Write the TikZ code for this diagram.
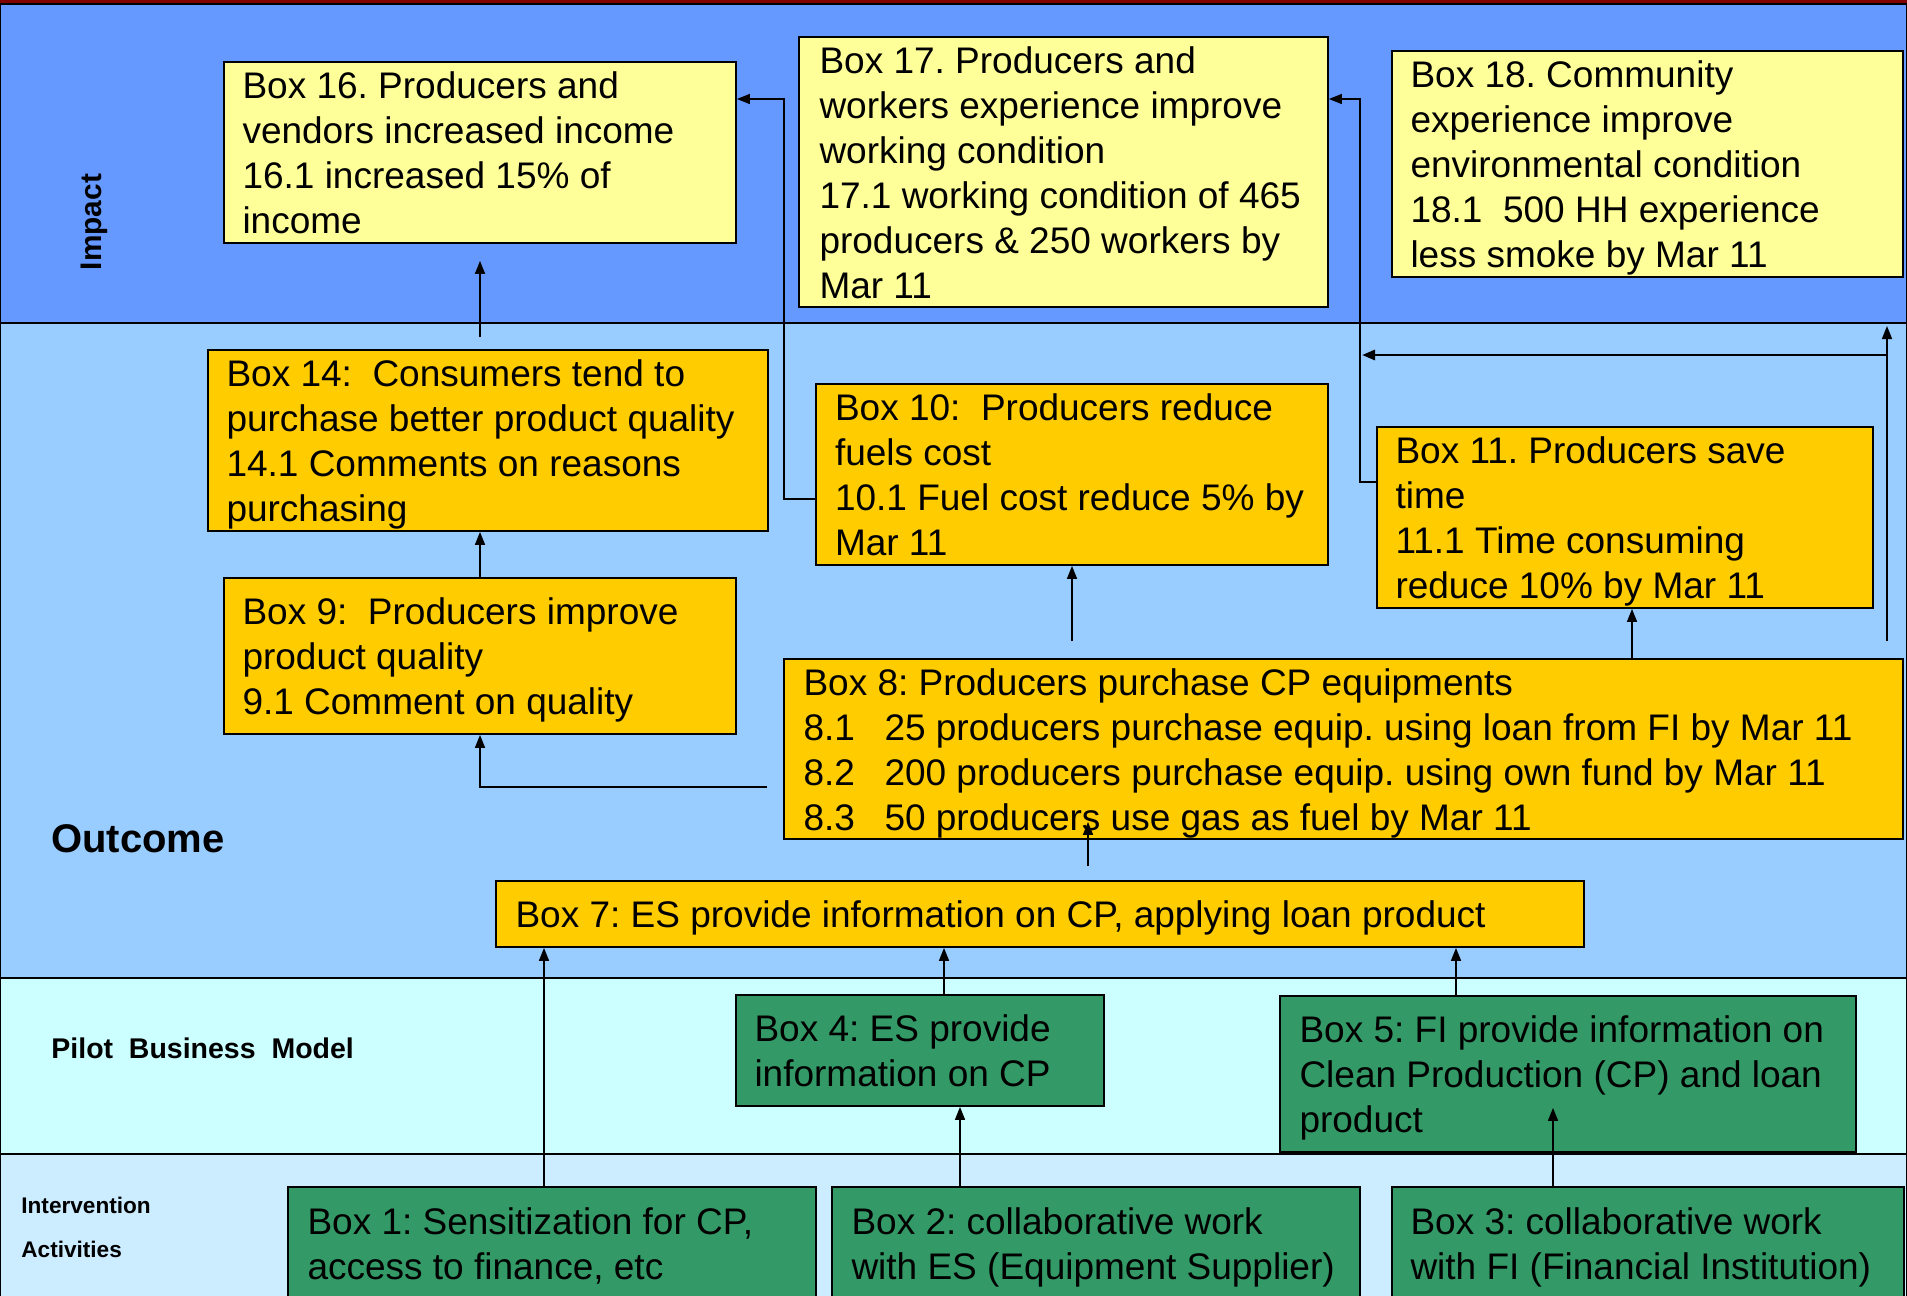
\documentclass[tikz,border=0pt]{standalone}
\usepackage{fontspec}
\setmainfont{Liberation Sans}
\usetikzlibrary{arrows.meta,calc}
\definecolor{impactblue}{HTML}{6699FF}
\definecolor{outcomeblue}{HTML}{99CCFF}
\definecolor{pilotcyan}{HTML}{CCFFFF}
\definecolor{intervblue}{HTML}{CCECFF}
\definecolor{topred}{HTML}{800000}
\definecolor{paleyellow}{HTML}{FFFF99}
\definecolor{goldbox}{HTML}{FFCC00}
\definecolor{seagreen}{HTML}{339966}
\frenchspacing
\begin{document}
\frenchspacing
\begin{tikzpicture}[x=0.5pt,y=-0.5pt,
  band/.style={draw=black, line width=1pt},
  bx/.style={draw=black, line width=0.9pt, rectangle, inner sep=0pt},
  imp/.style={bx, fill=paleyellow},
  outc/.style={bx, fill=goldbox},
  act/.style={bx, fill=seagreen},
  txt/.style={anchor=west, align=left, inner sep=0pt, text=black, yshift=-2pt,
    font=\fontsize{18.5pt}{22.5pt}\selectfont, execute at end node={\vphantom{g}}},
  arr/.style={draw=black, line width=0.8pt, -{Triangle[length=6.5pt,width=5pt]}},
  lbl/.style={anchor=base west, inner sep=0pt, text=black}
]
\useasboundingbox (0,0) rectangle (1907,1296);
\clip (0,0) rectangle (1907,1296);

% bands
\fill[topred] (0,0) rectangle (1907,4);
\draw[band, fill=impactblue] (0,4) rectangle (1907,323);
\draw[band, fill=outcomeblue] (0,323) rectangle (1907,978);
\draw[band, fill=pilotcyan] (0,978) rectangle (1907,1154);
\draw[band, fill=intervblue] (0,1154) rectangle (1907,1320);

% band labels
\node[lbl, font=\bfseries\fontsize{14.9pt}{18pt}\selectfont, rotate=90, anchor=base] (limpact) at (101,222) {Impact};
\node[lbl, font=\bfseries\fontsize{20pt}{24pt}\selectfont] (loutcome) at (51,852) {Outcome};
\node[lbl, font=\bfseries\fontsize{14.25pt}{17pt}\selectfont] (lpilot) at (51,1058) {Pilot~ Business~ Model};
\node[lbl, font=\bfseries\fontsize{11.3pt}{14pt}\selectfont] (linterv) at (21,1213) {Intervention};
\node[lbl, font=\bfseries\fontsize{11.3pt}{14pt}\selectfont] (lactiv) at (21,1257) {Activities};

% impact boxes
\node[imp, minimum width=256pt, minimum height=90.5pt] (b16) at (480,152.5) {};
\node[txt] (b16t) at ([xshift=9.5pt]b16.west)
  {Box 16. Producers and\\vendors increased income\\16.1 increased 15\% of\\income};
\node[imp, minimum width=264.5pt, minimum height=135pt] (b17) at (1063.5,172) {};
\node[txt] (b17t) at ([xshift=10.5pt]b17.west)
  {Box 17. Producers and\\workers experience improve\\working condition\\17.1 working condition of 465\\producers \& 250 workers by\\Mar 11};
\node[imp, minimum width=255.5pt, minimum height=113pt] (b18) at (1647.5,164) {};
\node[txt] (b18t) at ([xshift=9.5pt]b18.west)
  {Box 18. Community\\experience improve\\environmental condition\\18.1~ 500 HH experience\\less smoke by Mar 11};

% outcome boxes
\node[outc, minimum width=280pt, minimum height=90.5pt] (b14) at (488,440.5) {};
\node[txt] (b14t) at ([xshift=9.5pt]b14.west)
  {Box 14:~ Consumers tend to\\purchase better product quality\\14.1 Comments on reasons\\purchasing};
\node[outc, minimum width=256pt, minimum height=90.5pt] (b10) at (1072,474.5) {};
\node[txt] (b10t) at ([xshift=9.75pt]b10.west)
  {Box 10:~ Producers reduce\\fuels cost\\10.1 Fuel cost reduce 5\% by\\Mar 11};
\node[outc, minimum width=248pt, minimum height=90.5pt] (b11) at (1625,517.5) {};
\node[txt] (b11t) at ([xshift=9.5pt]b11.west)
  {Box 11. Producers save\\time\\11.1 Time consuming\\reduce 10\% by Mar 11};
\node[outc, minimum width=256pt, minimum height=78pt] (b9) at (480,656) {};
\node[txt] (b9t) at ([xshift=9.5pt]b9.west)
  {Box 9:~ Producers improve\\product quality\\9.1 Comment on quality};
\node[outc, minimum width=559.5pt, minimum height=90pt] (b8) at (1343.5,749) {};
\node[txt] (b8t) at ([xshift=10pt]b8.west)
  {Box 8: Producers purchase CP equipments\\
   \makebox[40.5pt][l]{8.1}25 producers purchase equip. using loan from FI by Mar 11\\
   \makebox[40.5pt][l]{8.2}200 producers purchase equip. using own fund by Mar 11\\
   \makebox[40.5pt][l]{8.3}50 producers use gas as fuel by Mar 11};
\node[outc, minimum width=544pt, minimum height=33pt] (b7) at (1040,914) {};
\node[txt] (b7t) at ([xshift=10pt]b7.west)
  {Box 7: ES provide information on CP, applying loan product};

% pilot business model boxes
\node[act, minimum width=184pt, minimum height=55.5pt] (b4) at (920,1050.5) {};
\node[txt] (b4t) at ([xshift=9.5pt]b4.west)
  {Box 4: ES provide\\information on CP};
\node[act, minimum width=288pt, minimum height=78pt] (b5) at (1568,1074) {};
\node[txt] (b5t) at ([xshift=10pt]b5.west)
  {Box 5: FI provide information on\\Clean Production (CP) and loan\\product};

% intervention boxes
\node[act, minimum width=264pt, minimum height=56.5pt] (b1) at (552,1243.5) {};
\node[txt] (b1t) at ([xshift=10pt]b1.west)
  {Box 1: Sensitization for CP,\\access to finance, etc};
\node[act, minimum width=264pt, minimum height=56.5pt] (b2) at (1096,1243.5) {};
\node[txt] (b2t) at ([xshift=10pt]b2.west)
  {Box 2: collaborative work\\with ES (Equipment Supplier)};
\node[act, minimum width=256pt, minimum height=56.5pt] (b3) at (1648,1243.5) {};
\node[txt] (b3t) at ([xshift=9.5pt]b3.west)
  {Box 3: collaborative work\\with FI (Financial Institution)};

% helper coordinates
\coordinate (y787) at (0,787);
\coordinate (y499) at (0,499);
\coordinate (y482) at (0,482);
\coordinate (y99) at (0,99);
\coordinate (bend10) at (784,499);
\coordinate (bend11) at (1360,482);
\coordinate (t18) at (1887,326);
\coordinate (hs) at (1887,355);
\coordinate (he) at (1362,355);
\coordinate (x1632) at (1632,0);
\coordinate (x1088) at (1088,0);
\coordinate (x544) at (544,0);
\coordinate (x944) at (944,0);
\coordinate (x1456) at (1456,0);
\coordinate (x960) at (960,0);
\coordinate (x1553) at (1553,0);

% connectors
\draw[arr, shorten <=6pt, shorten >=8.5pt] (b16.south |- b14.north) -- (b16.south);
\draw[arr] (b9.north) -- (b9.north |- b14.south);
\draw[arr, shorten <=8pt] (b8.west |- y787) -| (b9.south);
\draw[arr] (b10.west |- y499) -- (bend10) |- (b16.east |- y99);
\draw[arr] (b11.west |- y482) -- (bend11) |- (b17.east |- y99);
\draw[arr, shorten <=8.5pt] (t18 |- b8.north) -- (t18);
\draw[arr, line width=1.4pt] (hs) -- (he);
\draw[arr, shorten <=8.5pt] (b10.south |- b8.north) -- (b10.south);
\draw[arr] (b8.north -| x1632) -- (b11.south -| x1632);
\draw[arr, shorten <=7pt, shorten >=-9pt] (b7.north -| x1088) -- (b8.south -| x1088);
\draw[arr] (b1.north -| x544) -- (b7.south -| x544);
\draw[arr] (b4.north -| x944) -- (b7.south -| x944);
\draw[arr] (b5.north -| x1456) -- (b7.south -| x1456);
\draw[arr] (b2.north -| x960) -- (b4.south -| x960);
\draw[arr, shorten >=-22.5pt] (b3.north -| x1553) -- (b5.south -| x1553);
\end{tikzpicture}
\end{document}
